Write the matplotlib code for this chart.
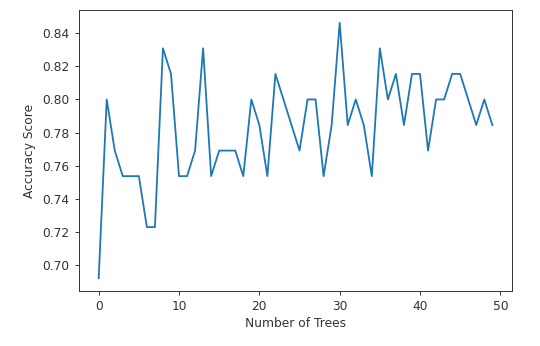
import matplotlib
matplotlib.use("Agg")
import matplotlib.pyplot as plt

# Test-set accuracy for random forests of increasing size
n_trees = list(range(50))
accuracy = [
    0.6923, 0.8000, 0.7692, 0.7538, 0.7538, 0.7538, 0.7231, 0.7231, 0.8308, 0.8154,
    0.7538, 0.7538, 0.7692, 0.8308, 0.7538, 0.7692, 0.7692, 0.7692, 0.7538, 0.8000,
    0.7846, 0.7538, 0.8154, 0.8000, 0.7846, 0.7692, 0.8000, 0.8000, 0.7538, 0.7846,
    0.8462, 0.7846, 0.8000, 0.7846, 0.7538, 0.8308, 0.8000, 0.8154, 0.7846, 0.8154,
    0.8154, 0.7692, 0.8000, 0.8000, 0.8154, 0.8154, 0.8000, 0.7846, 0.8000, 0.7846,
]

fs = 8.8
fig = plt.figure(figsize=(5.40, 3.46), dpi=100)
ax = fig.add_axes([79 / 540, 1 - 291 / 346, (512 - 79) / 540, (291 - 10) / 346])
ax.plot(n_trees, accuracy, color="#1f77b4", linewidth=1.3)
ax.set_xlabel("Number of Trees", fontsize=fs, color="#333333", labelpad=3)
ax.set_ylabel("Accuracy Score", fontsize=fs, color="#333333", labelpad=5)
ax.tick_params(labelsize=fs, length=2.6, width=0.7, colors="#333333", pad=4)
for s in ax.spines.values():
    s.set_linewidth(0.7)
    s.set_color("#333333")
fig.savefig("out.png", dpi=100)
